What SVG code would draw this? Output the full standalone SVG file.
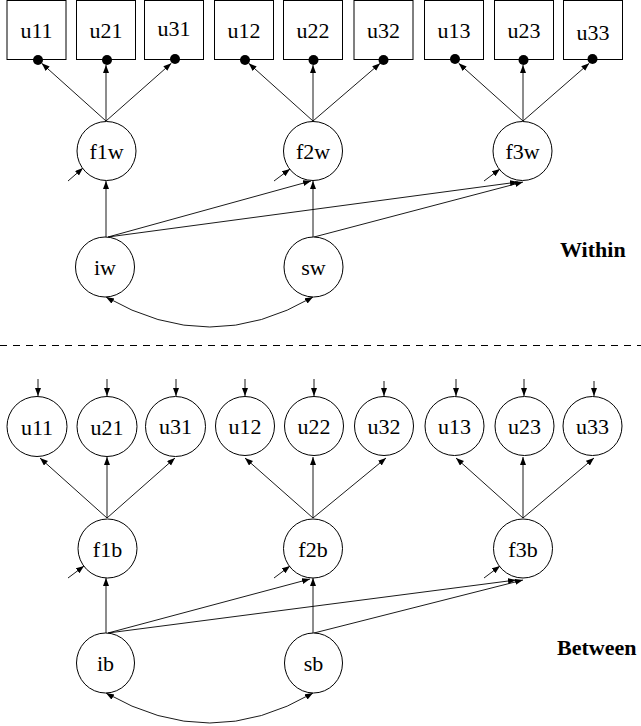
<svg xmlns="http://www.w3.org/2000/svg" width="641" height="726" viewBox="0 0 641 726">
<style>
.box{fill:#fff;stroke:#000;stroke-width:1}
.node{fill:#fff;stroke:#000;stroke-width:1}
.dot{fill:#000}
.lbl{font-family:"Liberation Serif","Times New Roman",serif;font-size:22px;text-anchor:middle;fill:#000}
.title{font-family:"Liberation Serif","Times New Roman",serif;font-size:22px;font-weight:bold;fill:#000}
.c{fill:none;stroke:#000;stroke-width:0.9;marker-end:url(#ah)}
.cc{fill:none;stroke:#000;stroke-width:0.9;marker-end:url(#ah);marker-start:url(#ah)}
</style>
<defs>
<marker id="ah" markerUnits="userSpaceOnUse" markerWidth="9" markerHeight="7" refX="8" refY="3" orient="auto-start-reverse">
<path d="M0,0 L8,3 L0,6 z" fill="#000"/>
</marker>
</defs>
<rect width="641" height="726" fill="#fff"/>

<g id="connectors">
<!-- within fan-out -->
<line class="c" x1="106" y1="121" x2="41.7" y2="63.3"/>
<line class="c" x1="106" y1="121" x2="106" y2="65"/>
<line class="c" x1="106" y1="121" x2="171.3" y2="63.3"/>
<line class="c" x1="313" y1="121" x2="248.7" y2="63.3"/>
<line class="c" x1="313" y1="121" x2="313" y2="65"/>
<line class="c" x1="313" y1="121" x2="380.2" y2="63.3"/>
<line class="c" x1="523" y1="121" x2="458.7" y2="63.3"/>
<line class="c" x1="523" y1="121" x2="523" y2="65"/>
<line class="c" x1="523" y1="121" x2="589.2" y2="63.3"/>
<!-- within residuals -->
<line class="c" x1="68" y1="181" x2="83" y2="168"/>
<line class="c" x1="274" y1="181" x2="290" y2="169"/>
<line class="c" x1="484" y1="181" x2="500" y2="169"/>
<!-- within growth -->
<line class="c" x1="106" y1="237" x2="106" y2="181"/>
<line class="c" x1="108" y1="237" x2="311" y2="181"/>
<line class="c" x1="108" y1="237" x2="518" y2="182"/>
<line class="c" x1="313" y1="237" x2="313" y2="181"/>
<line class="c" x1="314" y1="237" x2="523" y2="182"/>
<path class="cc" d="M106,297 Q210,357 313,297"/>

<!-- between indicator residuals -->
<line class="c" x1="38" y1="379" x2="38" y2="396"/>
<line class="c" x1="107" y1="379" x2="107" y2="396"/>
<line class="c" x1="176" y1="379" x2="176" y2="396"/>
<line class="c" x1="245" y1="379" x2="245" y2="396"/>
<line class="c" x1="314" y1="379" x2="314" y2="396"/>
<line class="c" x1="384" y1="381" x2="384" y2="396"/>
<line class="c" x1="456" y1="379" x2="456" y2="396"/>
<line class="c" x1="524" y1="379" x2="524" y2="396"/>
<line class="c" x1="594" y1="381" x2="594" y2="396"/>
<!-- between fan-out -->
<line class="c" x1="107" y1="518" x2="40" y2="458"/>
<line class="c" x1="107" y1="518" x2="107" y2="457"/>
<line class="c" x1="107" y1="518" x2="175" y2="458"/>
<line class="c" x1="313" y1="518" x2="245" y2="458"/>
<line class="c" x1="313" y1="518" x2="313" y2="457"/>
<line class="c" x1="313" y1="518" x2="386" y2="458"/>
<line class="c" x1="523" y1="518" x2="456" y2="458"/>
<line class="c" x1="523" y1="518" x2="523" y2="457"/>
<line class="c" x1="523" y1="518" x2="594" y2="458"/>
<!-- between residuals -->
<line class="c" x1="68" y1="578" x2="84" y2="566"/>
<line class="c" x1="274" y1="578" x2="290" y2="566"/>
<line class="c" x1="484" y1="578" x2="500" y2="566"/>
<!-- between growth -->
<line class="c" x1="106" y1="633" x2="106" y2="578"/>
<line class="c" x1="108" y1="633" x2="310" y2="579"/>
<line class="c" x1="108" y1="633" x2="516" y2="580"/>
<line class="c" x1="313" y1="633" x2="313" y2="578"/>
<line class="c" x1="314" y1="633" x2="523" y2="580"/>
<path class="cc" d="M106,693 Q210,753 313,693"/>
</g>

<line id="separator" x1="0" y1="345.5" x2="641" y2="345.5" stroke="#000" stroke-width="1" stroke-dasharray="7 6"/>

<!-- within indicators -->
<g id="w_u11"><rect class="box" x="7" y="0.5" width="59" height="59"/><text class="lbl" x="36.5" y="38">u11</text><circle class="dot" cx="38" cy="60" r="5"/></g>
<g id="w_u21"><rect class="box" x="76.5" y="0.5" width="59" height="59"/><text class="lbl" x="106" y="38">u21</text><circle class="dot" cx="107" cy="60" r="5"/></g>
<g id="w_u31"><rect class="box" x="144.5" y="0.5" width="59" height="59"/><text class="lbl" x="174" y="36">u31</text><circle class="dot" cx="175" cy="59" r="5"/></g>
<g id="w_u12"><rect class="box" x="214.5" y="0.5" width="59" height="59"/><text class="lbl" x="244" y="38">u12</text><circle class="dot" cx="245" cy="60" r="5"/></g>
<g id="w_u22"><rect class="box" x="283.5" y="0.5" width="59" height="59"/><text class="lbl" x="313" y="38">u22</text><circle class="dot" cx="313.5" cy="60" r="5"/></g>
<g id="w_u32"><rect class="box" x="354" y="0.5" width="59" height="59"/><text class="lbl" x="383.5" y="38">u32</text><circle class="dot" cx="383.5" cy="60" r="5"/></g>
<g id="w_u13"><rect class="box" x="424.5" y="0.5" width="59" height="59"/><text class="lbl" x="454" y="38">u13</text><circle class="dot" cx="455" cy="59" r="5"/></g>
<g id="w_u23"><rect class="box" x="494.5" y="0.5" width="59" height="59"/><text class="lbl" x="524" y="38">u23</text><circle class="dot" cx="523.5" cy="60" r="5"/></g>
<g id="w_u33"><rect class="box" x="563.5" y="0.5" width="59" height="59"/><text class="lbl" x="593" y="40">u33</text><circle class="dot" cx="592.5" cy="59" r="5"/></g>

<!-- within factors -->
<g id="f1w"><circle class="node" cx="106.5" cy="151" r="29.5"/><text class="lbl" x="106.5" y="159">f1w</text></g>
<g id="f2w"><circle class="node" cx="313" cy="151" r="29.5"/><text class="lbl" x="313" y="159">f2w</text></g>
<g id="f3w"><circle class="node" cx="522.5" cy="151" r="29.5"/><text class="lbl" x="522.5" y="159">f3w</text></g>
<g id="iw"><ellipse class="node" cx="105" cy="267" rx="29.5" ry="30"/><text class="lbl" x="105" y="275">iw</text></g>
<g id="sw"><ellipse class="node" cx="313.5" cy="267" rx="29.5" ry="30"/><text class="lbl" x="313.5" y="275">sw</text></g>
<text id="within" class="title" x="560" y="257">Within</text>

<!-- between indicators -->
<g id="b_u11"><circle class="node" cx="37" cy="426.5" r="30"/><text class="lbl" x="37" y="435">u11</text></g>
<g id="b_u21"><circle class="node" cx="107" cy="426.5" r="30"/><text class="lbl" x="107" y="435">u21</text></g>
<g id="b_u31"><circle class="node" cx="175.5" cy="426.5" r="30"/><text class="lbl" x="175.5" y="434">u31</text></g>
<g id="b_u12"><circle class="node" cx="245" cy="426" r="29.5"/><text class="lbl" x="245" y="434">u12</text></g>
<g id="b_u22"><circle class="node" cx="314" cy="426" r="29.5"/><text class="lbl" x="314" y="434">u22</text></g>
<g id="b_u32"><circle class="node" cx="384" cy="426" r="29.5"/><text class="lbl" x="384" y="434">u32</text></g>
<g id="b_u13"><circle class="node" cx="454.5" cy="426" r="29.5"/><text class="lbl" x="454.5" y="434">u13</text></g>
<g id="b_u23"><circle class="node" cx="524.5" cy="426" r="29.5"/><text class="lbl" x="524.5" y="434">u23</text></g>
<g id="b_u33"><circle class="node" cx="592.5" cy="426" r="29.5"/><text class="lbl" x="592.5" y="434">u33</text></g>

<!-- between factors -->
<g id="f1b"><circle class="node" cx="107.5" cy="548.5" r="29.5"/><text class="lbl" x="107.5" y="557">f1b</text></g>
<g id="f2b"><circle class="node" cx="313" cy="548.5" r="29.5"/><text class="lbl" x="313" y="557">f2b</text></g>
<g id="f3b"><circle class="node" cx="523" cy="548.5" r="29.5"/><text class="lbl" x="523" y="557">f3b</text></g>
<g id="ib"><ellipse class="node" cx="105.5" cy="663" rx="29" ry="30"/><text class="lbl" x="105.5" y="671">ib</text></g>
<g id="sb"><ellipse class="node" cx="313.5" cy="663" rx="29" ry="30"/><text class="lbl" x="313.5" y="671">sb</text></g>
<text id="between" class="title" x="557" y="655">Between</text>
</svg>
